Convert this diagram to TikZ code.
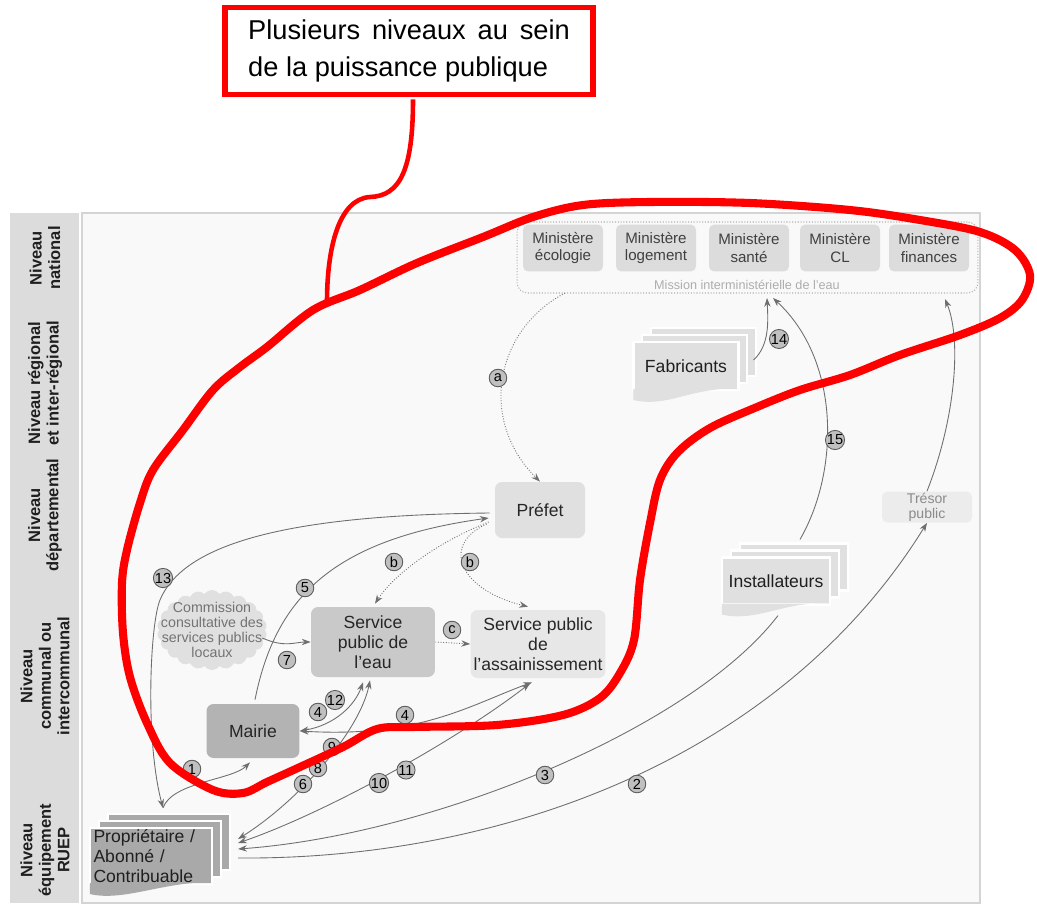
\documentclass[tikz,border=0pt]{standalone}
\usepackage{fontspec}
\setmainfont{Liberation Sans}
\usetikzlibrary{positioning}
\usetikzlibrary{arrows.meta}
\usetikzlibrary{calc}
\usetikzlibrary{shapes.symbols}
\usetikzlibrary{shadows}

\definecolor{bandgray}{HTML}{DCDCDC}
\definecolor{panelgray}{HTML}{F9F9F9}
\definecolor{panelline}{HTML}{D4D4D4}
\definecolor{boxlight}{HTML}{E0E0E0}
\definecolor{boxpale}{HTML}{E7E7E7}
\definecolor{boxmid}{HTML}{C9C9C9}
\definecolor{boxdark}{HTML}{B3B3B3}
\definecolor{propgray}{HTML}{A9A9A9}
\definecolor{linegray}{HTML}{6E6E6E}
\definecolor{numgray}{HTML}{C0C0C0}
\definecolor{textgray}{HTML}{8A8A8A}
\definecolor{callred}{HTML}{FF0000}

\begin{document}
\begin{tikzpicture}[x=0.02cm, y=-0.02cm,
    >={Stealth[length=5pt, width=3.6pt]},
    level/.style={rotate=90, align=center, text=black!88, font=\bfseries\fontsize{9.4}{10.5}\selectfont},
    mission/.style={rectangle, rounded corners=6pt, draw=black!30, densely dotted, line width=0.6pt, minimum width=9.22cm, minimum height=1.42cm},
    missionlbl/.style={text=black!32, inner sep=0pt, font=\fontsize{7.2}{8}\selectfont},
    ministere/.style={rectangle, rounded corners=3pt, fill=bandgray, text=black!75, align=center, minimum width=1.6cm, minimum height=0.94cm, inner sep=1pt, font=\fontsize{8.6}{9.8}\selectfont},
    box/.style={rectangle, rounded corners=4pt, fill=#1, text=black!85, align=center, inner sep=1pt, font=\fontsize{10}{11.4}\selectfont},
    tresor/.style={rectangle, rounded corners=3pt, fill=boxpale!80!white, text=textgray, align=center, minimum width=1.8cm, minimum height=0.62cm, inner sep=0pt, font=\fontsize{8}{8.6}\selectfont},
    bubble/.style={cloud, cloud puffs=22, cloud puff arc=110, cloud ignores aspect, fill=boxlight, minimum width=2.2cm, minimum height=1.6cm, inner sep=0pt},
    bubbletext/.style={text=black!55, align=center, inner sep=0pt, font=\fontsize{8.1}{8.6}\selectfont},
    docs/.style={rectangle, fill=#1, draw=white, line width=1.2pt, text=black!88, align=center, inner xsep=2pt, inner ysep=0pt, font=\fontsize{10}{11.4}\selectfont,
        copy shadow={shadow xshift=10pt, shadow yshift=8pt, fill=#1, draw=white, line width=1.2pt},
        copy shadow={shadow xshift=5pt, shadow yshift=4pt, fill=#1, draw=white, line width=1.2pt}},
    conn/.style={draw=linegray, line width=0.5pt, ->},
    twoway/.style={draw=linegray, line width=0.5pt, <->},
    num/.style={circle, draw=black!65, fill=numgray, line width=0.5pt, inner sep=0pt, minimum size=10pt, font=\fontsize{8.3}{8.3}\selectfont},
    callout/.style={draw=callred, line width=3.4pt, fill=white, text width=183pt, align=justify, inner xsep=13pt, minimum height=1.74cm, font=\fontsize{15.5}{16.2}\selectfont, execute at begin node={\vspace*{5pt}}}]

                % Frame, level band and panel
                \useasboundingbox (0,0) rectangle (1037,906);
                \fill[white] (0,0) rectangle (1037,906);
                \fill[bandgray] (10,213) rectangle (79,903);
                \filldraw[fill=panelgray, draw=panelline, line width=0.6pt] (82,213) rectangle (980,903);

                % Levels on the left
                \foreach \name/\y/\txt in {lvnat/258/{Niveau\\national}, lvreg/383/{Niveau régional\\et inter-régional}, lvdep/515/{Niveau\\départemental}, lvcom/676/{Niveau\\communal ou\\intercommunal}, lvequ/850/{Niveau\\équipement\\RUEP}}
                    \node[level] (\name) at (45,\y) {\txt};

                % Define the ministries
                \node[mission] (mission) at (747.5,257.5) {};
                \foreach \name/\x/\txt in {ecol/563/écologie, loge/656/logement, sante/749/santé, cl/840/CL, fin/929/finances}
                    \node[ministere] (\name) at (\x,248) {Ministère\\\txt};
                \node[missionlbl] (missionlbl) at (747,285) {Mission interministérielle de l'eau};

                % Define the actors
                \node[box=boxlight, minimum width=1.8cm, minimum height=1.12cm] (prefet) at (540,510) {Préfet};
                \node[box=boxmid, minimum width=2.48cm, minimum height=1.4cm] (spe) at (373,642) {Service\\public de\\l'eau};
                \node[box=boxpale, minimum width=2.7cm, minimum height=1.36cm] (spa) at (538,644) {Service public\\de\\l'assainissement};
                \node[box=boxdark, minimum width=1.86cm, minimum height=1.08cm] (mairie) at (253,731) {Mairie};
                \node[tresor] (tresor) at (927,507) {Trésor\\public};
                \node[bubble] (comm) at (212,630) {};
                \node[bubbletext] (commtxt) at (comm.center) {Commission\\consultative des\\services publics\\locaux};
                \node[docs=boxlight, minimum width=2.1cm, minimum height=0.96cm] (fab) at (686,366) {Fabricants};
                \node[docs=boxlight, minimum width=2.16cm, minimum height=0.94cm] (inst) at (776,581) {Installateurs};
                \node[docs=propgray, text width=2.3cm, align=left, minimum height=1.12cm] (prop) at (151,856) {Propriétaire /\\Abonné /\\Contribuable};
                \foreach \d/\c in {fab/boxlight, inst/boxlight, prop/propgray}
                    \fill[\c] ($(\d.south west)+(1,-2)$) -- ++(0,11) .. controls +(35,8) and +(-45,-3) .. ($(\d.south east)+(-1,-2)$) -- cycle;

                % Define the end points on the mission
                \coordinate (ma) at (565,293);
                \coordinate (mb) at (767,298);
                \coordinate (mc) at (773,298);
                \coordinate (md) at (945,299);
                \coordinate (proptop) at ($(prop.north)+(12,-19)$);

                % Draw the links
                \draw[conn, densely dotted] (ma) .. controls (495,330) and (478,420) .. (prefet.north);
                \draw[conn] ($(fab.east)+(14,-6)$) .. controls (770,345) and (768,320) .. (mb);
                \draw[conn] ($(inst.north)+(24,-17)$) .. controls (840,470) and (840,360) .. (mc);
                \draw[conn] (tresor.north) .. controls (955,420) and (962,340) .. (md);
                \draw[conn] ($(prop.east)+(25,2)$) .. controls (500,860) and (780,760) .. (tresor.south);
                \draw[conn] ($(inst.south)+(2,10)$) .. controls (690,730) and (430,835) .. ($(prop.east)+(25,-7)$);
                \draw[twoway] ($(prop.east)+(25,-13)$) .. controls (320,815) and (450,745) .. ($(spa.south)+(-8,5)$);
                \draw[twoway] ($(spa.south)+(-6,4)$) .. controls (470,705) and (420,738) .. (mairie.east);
                \draw[twoway] ($(spe.south)+(-10,5)$) .. controls (355,705) and (335,725) .. (mairie.east);
                \draw[twoway] ($(prop.east)+(25,-17)$) .. controls (300,800) and (360,730) .. ($(spe.south)+(-3,3)$);
                \draw[conn] (proptop) .. controls (172,782) and (232,780) .. ($(mairie.south)+(-3,4)$);
                \draw[conn] ($(prefet.west)+(-5,3)$) .. controls (300,515) and (185,540) .. (160,600) .. controls (150,624) and (145,740) .. (proptop);
                \draw[conn] ($(mairie.north)+(2,-4)$) .. controls (275,600) and (330,540) .. ($(prefet.west)+(-6,8)$);
                \draw[conn] ($(comm.east)+(-3,8)$) .. controls (285,648) and (295,642) .. (spe.west);
                \draw[conn, densely dotted] ($(prefet.west)+(-6,12)$) .. controls (430,545) and (390,580) .. ($(spe.north)+(2,-3)$);
                \draw[conn, densely dotted] ($(prefet.west)+(-8,14)$) .. controls (440,545) and (460,590) .. ($(spa.north)+(-10,-3)$);
                \draw[conn, densely dotted] (spe.east) -- (spa.west);

                % Number the links
                \foreach \name/\x/\y/\txt in {la/498/378/a, lb1/394/562/b, lb2/470/562/b, lc/452/630/c, l1/192/769/1, l2/637/784/2, l3/545/775/3, l4a/318/712/4, l4b/405/715/4, l5/305/588/5, l6/303/784/6, l7/287/660/7, l8/318/768/8, l9/332/747/9, l10/379/783/10, l11/406/770/11, l12/335/700/12, l13/163/578/13, l14/779/339/14, l15/835/440/15}
                    \node[num] (\name) at (\x,\y) {\txt};

                % Draw the red outline and the note
                \draw[callred, line width=4.6pt, line join=round] plot[smooth cycle, tension=0.55] coordinates {(313,310) (360,290) (417,263) (483,237) (533,217) (583,205) (650,202) (750,203) (850,210) (920,220) (980,232) (1015,250) (1030,275) (1022,300) (1000,318) (960,335) (900,355) (850,375) (800,390) (757,407) (710,428) (678,452) (660,480) (650,523) (640,580) (634,640) (620,673) (600,698) (563,715) (497,725) (413,727) (377,729) (343,747) (300,767) (267,782) (243,793) (213,790) (170,763) (147,723) (130,677) (123,633) (122,583) (127,550) (140,503) (153,470) (183,430) (213,390) (240,367) (267,347)};
                \node[callout] (note) at (409,51) {Plusieurs niveaux au sein de la puissance publique};
                \coordinate (tailend) at (327,302);
                \draw[callred, line width=2.6pt] ($(note.south)+(4,2)$) .. controls (413,170) and (400,196) .. (370,197) .. controls (338,199) and (327,250) .. (tailend);

            \end{tikzpicture}
\end{document}
